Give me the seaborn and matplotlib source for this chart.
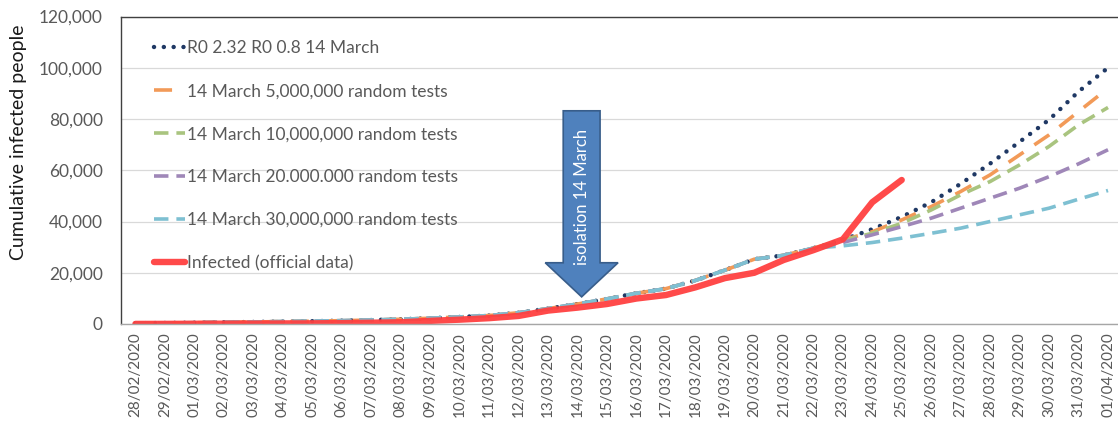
import matplotlib
matplotlib.use('Agg')
import matplotlib.pyplot as plt
import seaborn as sns
import numpy as np
from matplotlib.patches import FancyArrow

dates = ['28/02/2020', '29/02/2020', '01/03/2020', '02/03/2020', '03/03/2020',
         '04/03/2020', '05/03/2020', '06/03/2020', '07/03/2020', '08/03/2020',
         '09/03/2020', '10/03/2020', '11/03/2020', '12/03/2020', '13/03/2020',
         '14/03/2020', '15/03/2020', '16/03/2020', '17/03/2020', '18/03/2020',
         '19/03/2020', '20/03/2020', '21/03/2020', '22/03/2020', '23/03/2020',
         '24/03/2020', '25/03/2020', '26/03/2020', '27/03/2020', '28/03/2020',
         '29/03/2020', '30/03/2020', '31/03/2020', '01/04/2020']

# model curve shared by all scenarios up to 22/03
model_common = [300, 400, 500, 650, 800, 950, 1100, 1300, 1550, 1850,
                2250, 2750, 3300, 4400, 6000, 7800, 9800, 12000, 13800, 17000,
                21000, 25300, 26800, 29600]

# scenarios from 23/03 to 01/04
tail_r0 = [32800, 37000, 41800, 47500, 54700, 62600, 71100, 79700, 90700, 100000]
tail_5m = [32800, 36000, 40600, 45800, 51700, 58200, 66000, 73800, 82900, 92000]
tail_10m = [32600, 35400, 39300, 44500, 50400, 55600, 62100, 69300, 77700, 84500]
tail_20m = [31800, 34800, 38000, 41300, 45200, 49100, 53000, 57500, 62500, 68000]
tail_30m = [30500, 31800, 33500, 35400, 37400, 40000, 42600, 45200, 48700, 52100]

# official data, 28/02 to 25/03
official = [32, 45, 84, 120, 165, 222, 259, 365, 500, 674,
            1231, 1695, 2277, 3146, 5232, 6391, 7798, 9942, 11300, 14300,
            17900, 20000, 25000, 28800, 33000, 47500, 56200]

labels = ['R0 2.32 R0 0.8 14 March',
          '14 March 5,000,000 random tests',
          '14 March 10,000,000 random tests',
          '14 March 20.000.000 random tests',
          '14 March 30,000,000 random tests',
          'Infected (official data)']

sns.set_style('white')
plt.rcParams['font.family'] = ['Lato', 'DejaVu Sans']

fig = plt.figure(figsize=(11.18, 4.21), dpi=100)
ax = fig.add_axes([120.7 / 1118, 97 / 421, (1122.75 - 120.7) / 1118, (404.5 - 97) / 421])

idx = np.arange(len(dates))
scenarios = [
    (tail_r0, '#1F3864', (0, (0.01, 2.2)), 'round', 3.2),
    (tail_5m, '#F29A58', (0, (5.0, 3.6)), 'butt', 2.6),
    (tail_10m, '#A9C47F', (0, (4.0, 2.2)), 'butt', 2.6),
    (tail_20m, '#9F87B8', (0, (4.0, 2.2)), 'butt', 2.6),
    (tail_30m, '#7EC0D2', (0, (4.0, 2.2)), 'butt', 2.6),
]
for (tail, col, ls, cap, lw), lab in zip(scenarios, labels):
    vals = model_common + tail
    sns.lineplot(x=idx, y=vals, ax=ax, color=col, linestyle=ls, lw=lw,
                 dash_capstyle=cap, label=lab)

sns.lineplot(x=idx[:len(official)], y=official, ax=ax, color='#FF4040', lw=4.6,
             solid_capstyle='round', label=labels[-1], alpha=0.95)

ax.set_xlim(-0.5, len(dates) - 0.5)
ax.set_ylim(0, 120000)
ax.set_yticks(np.arange(0, 120001, 20000))
ax.set_yticklabels([f'{v:,}' for v in range(0, 120001, 20000)])
ax.set_xticks(idx)
ax.set_xticklabels(dates, rotation=90)
ax.set_xticks(np.arange(-0.5, len(dates), 1), minor=True)
ax.tick_params(axis='x', which='major', length=0, pad=6, labelsize=11, colors='#595959')
ax.tick_params(axis='x', which='minor', length=5, width=1, color='#A6A6A6', direction='out')
ax.tick_params(axis='y', length=0, pad=13, labelsize=12.5, colors='#595959')

ax.grid(axis='y', color='#D9D9D9', lw=0.9)
ax.set_axisbelow(True)
for side in ['left', 'top']:
    ax.spines[side].set_color('#404040')
    ax.spines[side].set_linewidth(1.0)
ax.spines['bottom'].set_color('#A6A6A6')
ax.spines['bottom'].set_linewidth(1.0)
ax.spines['right'].set_visible(False)

ax.set_xlabel('')
ax.set_ylabel('Cumulative infected people', fontsize=14, color='#1A1A1A')
ax.yaxis.set_label_coords(-0.0935, 0.59)

# arrow marking isolation on 14 March
arrow_x = dates.index('14/03/2020') + 0.14
ax.add_patch(FancyArrow(arrow_x, 83200, 0, -72600, width=1.25, head_width=2.47,
                        head_length=13300, length_includes_head=True,
                        fc='#4F81BD', ec='#385D8A', lw=1.2, zorder=5))
ax.text(arrow_x, 49700, 'isolation 14 March', rotation=90, color='white',
        fontsize=12, ha='center', va='center', zorder=6)

leg = ax.legend(loc='upper left', bbox_to_anchor=(0.033, 0.922), frameon=False,
                fontsize=12.5, labelspacing=1.55, handlelength=1.8,
                handletextpad=0.1, borderpad=0, borderaxespad=0)
for t in leg.get_texts():
    t.set_color('#595959')

fig.savefig('out.png', dpi=100)
